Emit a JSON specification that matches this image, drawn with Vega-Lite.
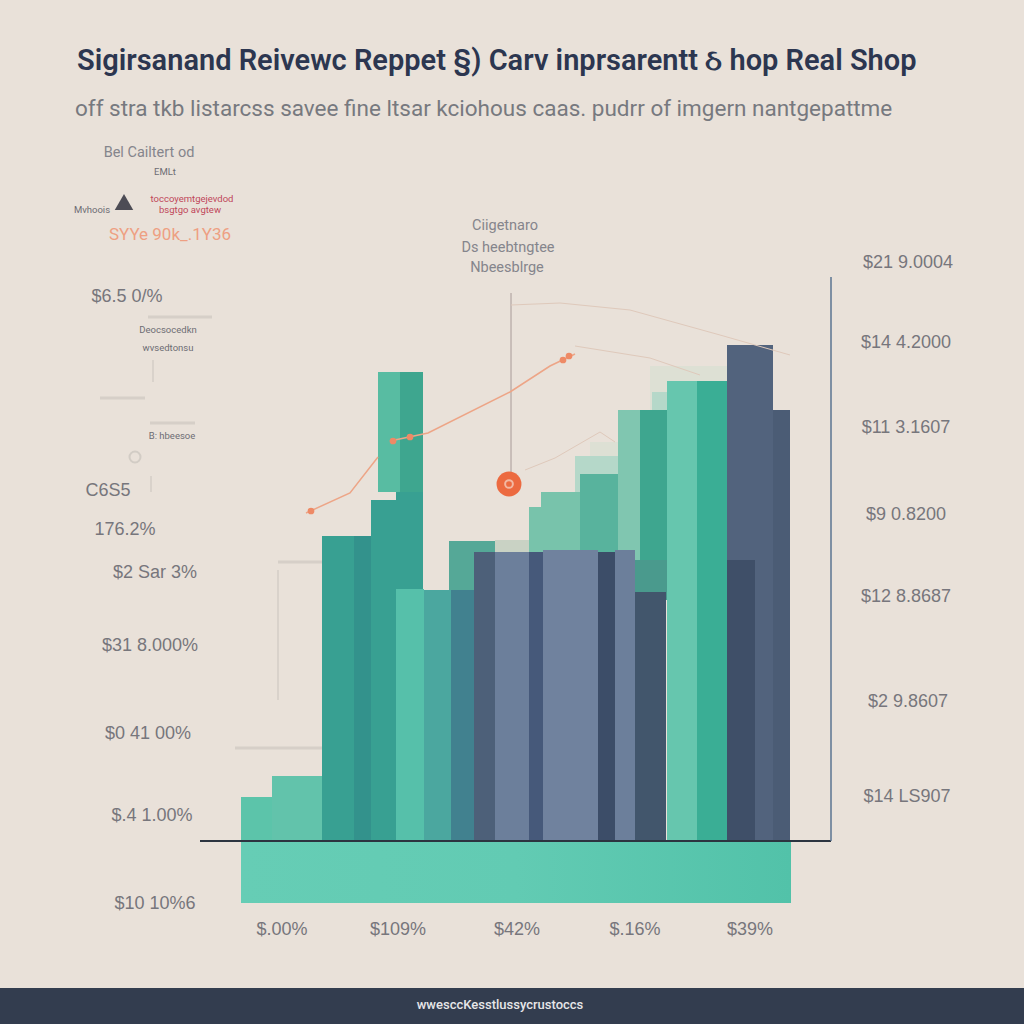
{"$schema":"https://vega.github.io/schema/vega-lite/v6.json","autosize":{"type":"fit","contains":"padding"},"width":1024,"height":1024,"padding":0,"background":"#e9e1d9","config":{"view":{"stroke":null},"axis":{"disable":true}},
"layer":[
{"data":{"values":[
{"a":590,"b":625,"t":442,"u":560,"g":"haze3"},{"a":650,"b":730,"t":366,"u":420,"g":"haze3"},{"a":575,"b":618,"t":456,"u":552,"g":"haze2"},{"a":652,"b":668,"t":392,"u":560,"g":"haze2"},
{"a":529,"b":541,"t":507,"u":552,"g":"mintfade"},{"a":541,"b":580,"t":492,"u":552,"g":"mintfade"},{"a":580,"b":618,"t":474,"u":552,"g":"mintmid"},
{"a":449,"b":495,"t":541,"u":600,"g":"tealfade"},{"a":495,"b":529,"t":540,"u":552,"g":"pale"},
{"a":618,"b":640,"t":410,"u":600,"g":"mintpale"},{"a":640,"b":667,"t":410,"u":600,"g":"green"},{"a":618,"b":667,"t":560,"u":600,"g":"tealdim"},
{"a":667,"b":697,"t":381,"u":841,"g":"mintpale2"},{"a":697,"b":727,"t":381,"u":841,"g":"green2"},
{"a":241,"b":272,"t":797,"u":841,"g":"mint"},{"a":272,"b":322,"t":776,"u":841,"g":"mint2"},
{"a":378,"b":400,"t":372,"u":492,"g":"mint3"},{"a":400,"b":423,"t":372,"u":492,"g":"green"},
{"a":322,"b":354,"t":536,"u":841,"g":"teal"},{"a":354,"b":371,"t":536,"u":841,"g":"tealdark"},{"a":371,"b":396,"t":500,"u":841,"g":"teal"},{"a":396,"b":423,"t":492,"u":590,"g":"teal"},
{"a":396,"b":424,"t":589,"u":841,"g":"mint4"},{"a":424,"b":451,"t":590,"u":841,"g":"teal2"},{"a":451,"b":474,"t":590,"u":841,"g":"blueteal"},
{"a":474,"b":495,"t":552,"u":841,"g":"slate"},{"a":495,"b":529,"t":552,"u":841,"g":"slatelight"},{"a":529,"b":543,"t":552,"u":841,"g":"slatedark"},{"a":543,"b":598,"t":550,"u":841,"g":"slatelight2"},{"a":598,"b":615,"t":552,"u":841,"g":"navy"},{"a":615,"b":635,"t":550,"u":841,"g":"slatelight"},{"a":635,"b":666,"t":592,"u":841,"g":"slatedeep"},
{"a":727,"b":773,"t":345,"u":841,"g":"ink"},{"a":773,"b":790,"t":410,"u":841,"g":"ink2"},{"a":727,"b":755,"t":560,"u":841,"g":"ink3"}
]},"mark":{"type":"rect"},"encoding":{"x":{"field":"a","type":"quantitative","scale":{"domain":[0,1024],"nice":false,"zero":false},"axis":null},"x2":{"field":"b"},"y":{"field":"t","type":"quantitative","scale":{"domain":[1024,0],"nice":false,"zero":false},"axis":null},"y2":{"field":"u"},"color":{"field":"g","type":"nominal","legend":null,"scale":{"domain":["haze3","haze2","mintfade","mintmid","tealfade","pale","mintpale","green","tealdim","mintpale2","green2","mint","mint2","mint3","teal","tealdark","mint4","teal2","blueteal","slate","slatelight","slatedark","slatelight2","navy","slatedeep","ink","ink2","ink3"],"range":["#dde0d4","#b5d8c9","#78c3ab","#58b39d","#55a897","#c9d2c4","#80c6b0","#3ea68f","#4a9a8d","#66c6ae","#3aae95","#5cc4aa","#62c3ab","#58bca2","#38a092","#33928c","#56c0aa","#4ba79f","#41818f","#4d6079","#6c7f9b","#46597a","#70829e","#3c4d68","#42566c","#52637d","#4b5c75","#3f4f68"]}}}},
{"data":{"values":[{"a":241,"b":791,"t":842,"u":903}]},"mark":{"type":"rect","color":{"x1":0,"y1":0,"x2":1,"y2":0,"gradient":"linear","stops":[{"offset":0,"color":"#66cdb5"},{"offset":0.5,"color":"#62cbb3"},{"offset":1,"color":"#52c2a9"}]}},"encoding":{"x":{"field":"a","type":"quantitative","scale":{"domain":[0,1024],"nice":false,"zero":false},"axis":null},"x2":{"field":"b"},"y":{"field":"t","type":"quantitative","scale":{"domain":[1024,0],"nice":false,"zero":false},"axis":null},"y2":{"field":"u"}}},
{"data":{"values":[{"a":0,"b":1024,"t":988,"u":1024}]},"mark":{"type":"rect","color":"#333d4f"},"encoding":{"x":{"field":"a","type":"quantitative","scale":{"domain":[0,1024],"nice":false,"zero":false},"axis":null},"x2":{"field":"b"},"y":{"field":"t","type":"quantitative","scale":{"domain":[1024,0],"nice":false,"zero":false},"axis":null},"y2":{"field":"u"}}},
{"data":{"values":[{"x":200,"x2":831,"y":841}]},"mark":{"type":"rule","color":"#2c3440","strokeWidth":2},"encoding":{"x":{"field":"x","type":"quantitative","scale":{"domain":[0,1024],"nice":false,"zero":false},"axis":null},"x2":{"field":"x2"},"y":{"field":"y","type":"quantitative","scale":{"domain":[1024,0],"nice":false,"zero":false},"axis":null}}},
{"data":{"values":[{"x":831,"y":277,"y2":841}]},"mark":{"type":"rule","color":"#5a7390","strokeWidth":1.5},"encoding":{"x":{"field":"x","type":"quantitative","scale":{"domain":[0,1024],"nice":false,"zero":false},"axis":null},"y":{"field":"y","type":"quantitative","scale":{"domain":[1024,0],"nice":false,"zero":false},"axis":null},"y2":{"field":"y2"}}},
{"data":{"values":[{"x":511,"y":293,"y2":478}]},"mark":{"type":"rule","color":"#a89a98","strokeWidth":1},"encoding":{"x":{"field":"x","type":"quantitative","scale":{"domain":[0,1024],"nice":false,"zero":false},"axis":null},"y":{"field":"y","type":"quantitative","scale":{"domain":[1024,0],"nice":false,"zero":false},"axis":null},"y2":{"field":"y2"}}},
{"data":{"values":[{"x":153,"y":360,"y2":382},{"x":151,"y":476,"y2":492},{"x":278,"y":570,"y2":700}]},"mark":{"type":"rule","color":"#d3cdc6","strokeWidth":1.5},"encoding":{"x":{"field":"x","type":"quantitative","scale":{"domain":[0,1024],"nice":false,"zero":false},"axis":null},"y":{"field":"y","type":"quantitative","scale":{"domain":[1024,0],"nice":false,"zero":false},"axis":null},"y2":{"field":"y2"}}},
{"data":{"values":[{"x":235,"x2":322,"y":748},{"x":148,"x2":212,"y":317},{"x":150,"x2":195,"y":423},{"x":278,"x2":322,"y":562},{"x":100,"x2":145,"y":398}]},"mark":{"type":"rule","color":"#d6cfc8","strokeWidth":3},"encoding":{"x":{"field":"x","type":"quantitative","scale":{"domain":[0,1024],"nice":false,"zero":false},"axis":null},"x2":{"field":"x2"},"y":{"field":"y","type":"quantitative","scale":{"domain":[1024,0],"nice":false,"zero":false},"axis":null}}},
{"data":{"values":[{"s":"a","x":511,"y":305},{"s":"a","x":560,"y":303},{"s":"a","x":630,"y":310},{"s":"a","x":720,"y":335},{"s":"a","x":790,"y":355},{"s":"b","x":525,"y":470},{"s":"b","x":555,"y":458},{"s":"b","x":600,"y":432},{"s":"b","x":615,"y":442},{"s":"c","x":575,"y":346},{"s":"c","x":650,"y":358},{"s":"c","x":700,"y":375}]},"mark":{"type":"line","color":"#dfc9bb","strokeWidth":1},"encoding":{"x":{"field":"x","type":"quantitative","scale":{"domain":[0,1024],"nice":false,"zero":false},"axis":null},"y":{"field":"y","type":"quantitative","scale":{"domain":[1024,0],"nice":false,"zero":false},"axis":null},"detail":{"field":"s"}}},
{"data":{"values":[{"s":"a","x":306,"y":513},{"s":"a","x":350,"y":493},{"s":"a","x":378,"y":457},{"s":"b","x":390,"y":441},{"s":"b","x":428,"y":433},{"s":"b","x":510,"y":392},{"s":"b","x":550,"y":366},{"s":"b","x":575,"y":354}]},"mark":{"type":"line","color":"#eda587","strokeWidth":1.5},"encoding":{"x":{"field":"x","type":"quantitative","scale":{"domain":[0,1024],"nice":false,"zero":false},"axis":null},"y":{"field":"y","type":"quantitative","scale":{"domain":[1024,0],"nice":false,"zero":false},"axis":null},"detail":{"field":"s"}}},
{"data":{"values":[{"x":311,"y":511},{"x":393,"y":441},{"x":410,"y":437},{"x":563,"y":360},{"x":569,"y":356}]},"mark":{"type":"point","filled":true,"color":"#ee8a66","size":45,"opacity":1},"encoding":{"x":{"field":"x","type":"quantitative","scale":{"domain":[0,1024],"nice":false,"zero":false},"axis":null},"y":{"field":"y","type":"quantitative","scale":{"domain":[1024,0],"nice":false,"zero":false},"axis":null}}},
{"data":{"values":[{"x":509,"y":484}]},"mark":{"type":"point","filled":true,"color":"#ec6a40","size":620,"opacity":1},"encoding":{"x":{"field":"x","type":"quantitative","scale":{"domain":[0,1024],"nice":false,"zero":false},"axis":null},"y":{"field":"y","type":"quantitative","scale":{"domain":[1024,0],"nice":false,"zero":false},"axis":null}}},
{"data":{"values":[{"x":509,"y":484}]},"mark":{"type":"point","filled":false,"color":"#f6d9cc","size":60,"strokeWidth":2},"encoding":{"x":{"field":"x","type":"quantitative","scale":{"domain":[0,1024],"nice":false,"zero":false},"axis":null},"y":{"field":"y","type":"quantitative","scale":{"domain":[1024,0],"nice":false,"zero":false},"axis":null}}},
{"data":{"values":[{"x":124,"y":202}]},"mark":{"type":"point","filled":true,"shape":"triangle-up","color":"#4d4c55","size":340,"opacity":1},"encoding":{"x":{"field":"x","type":"quantitative","scale":{"domain":[0,1024],"nice":false,"zero":false},"axis":null},"y":{"field":"y","type":"quantitative","scale":{"domain":[1024,0],"nice":false,"zero":false},"axis":null}}},
{"data":{"values":[{"x":135,"y":457}]},"mark":{"type":"point","filled":false,"color":"#c9c4bd","size":120},"encoding":{"x":{"field":"x","type":"quantitative","scale":{"domain":[0,1024],"nice":false,"zero":false},"axis":null},"y":{"field":"y","type":"quantitative","scale":{"domain":[1024,0],"nice":false,"zero":false},"axis":null}}},
{"data":{"values":[{"x":77,"y":61,"label":"Sigirsanand Reivewc Reppet §) Carv inprsarentt  ઠ hop Real Shop"}]},"mark":{"type":"text","align":"left","baseline":"middle","font":"Roboto","fontSize":29,"fontWeight":600,"color":"#2c3650"},"encoding":{"x":{"field":"x","type":"quantitative","scale":{"domain":[0,1024],"nice":false,"zero":false},"axis":null},"y":{"field":"y","type":"quantitative","scale":{"domain":[1024,0],"nice":false,"zero":false},"axis":null},"text":{"field":"label"}}},
{"data":{"values":[{"x":75,"y":109,"label":"off stra tkb listarcss savee fine ltsar kciohous caas. pudrr of imgern nantgepattme"}]},"mark":{"type":"text","align":"left","baseline":"middle","font":"Roboto","fontSize":22.5,"color":"#77797f"},"encoding":{"x":{"field":"x","type":"quantitative","scale":{"domain":[0,1024],"nice":false,"zero":false},"axis":null},"y":{"field":"y","type":"quantitative","scale":{"domain":[1024,0],"nice":false,"zero":false},"axis":null},"text":{"field":"label"}}},
{"data":{"values":[{"x":908,"y":263,"label":"$21 9.0004"},{"x":906,"y":343,"label":"$14 4.2000"},{"x":906,"y":428,"label":"$11 3.1607"},{"x":906,"y":515,"label":"$9 0.8200"},{"x":906,"y":597,"label":"$12 8.8687"},{"x":908,"y":702,"label":"$2 9.8607"},{"x":907,"y":797,"label":"$14 LS907"},{"x":150,"y":646,"label":"$31 8.000%"},{"x":148,"y":734,"label":"$0 41 00%"},{"x":152,"y":816,"label":"$.4 1.00%"},{"x":155,"y":904,"label":"$10 10%6"},{"x":282,"y":930,"label":"$.00%"},{"x":398,"y":930,"label":"$109%"},{"x":517,"y":930,"label":"$42%"},{"x":635,"y":930,"label":"$.16%"},{"x":750,"y":930,"label":"$39%"},{"x":155,"y":573,"label":"$2 Sar   3%"},{"x":125,"y":530,"label":"176.2%"},{"x":127,"y":297,"label":"$6.5 0/%"},{"x":108,"y":491,"label":"C6S5"}]},"mark":{"type":"text","align":"center","baseline":"middle","font":"Liberation Sans","fontSize":18,"color":"#77767c"},"encoding":{"x":{"field":"x","type":"quantitative","scale":{"domain":[0,1024],"nice":false,"zero":false},"axis":null},"y":{"field":"y","type":"quantitative","scale":{"domain":[1024,0],"nice":false,"zero":false},"axis":null},"text":{"field":"label"}}},
{"data":{"values":[{"x":149,"y":153,"label":"Bel Cailtert od"},{"x":505,"y":226,"label":"Ciigetnaro"},{"x":508,"y":248,"label":"Ds heebtngtee"},{"x":507,"y":268,"label":"Nbeesblrge"}]},"mark":{"type":"text","align":"center","baseline":"middle","font":"Roboto","fontSize":14.5,"color":"#85858c"},"encoding":{"x":{"field":"x","type":"quantitative","scale":{"domain":[0,1024],"nice":false,"zero":false},"axis":null},"y":{"field":"y","type":"quantitative","scale":{"domain":[1024,0],"nice":false,"zero":false},"axis":null},"text":{"field":"label"}}},
{"data":{"values":[{"x":168,"y":330,"label":"Deocsocedkn"},{"x":168,"y":348,"label":"wvsedtonsu"},{"x":172,"y":436,"label":"B: hbeesoe"},{"x":92,"y":210,"label":"Mvhoois"},{"x":165,"y":172,"label":"EMLt"}]},"mark":{"type":"text","align":"center","baseline":"middle","font":"Roboto","fontSize":9.5,"color":"#6d6d74"},"encoding":{"x":{"field":"x","type":"quantitative","scale":{"domain":[0,1024],"nice":false,"zero":false},"axis":null},"y":{"field":"y","type":"quantitative","scale":{"domain":[1024,0],"nice":false,"zero":false},"axis":null},"text":{"field":"label"}}},
{"data":{"values":[{"x":192,"y":199,"label":"toccoyemtgejevdod"},{"x":190,"y":210,"label":"bsgtgo avgtew"}]},"mark":{"type":"text","align":"center","baseline":"middle","font":"Roboto","fontSize":9.5,"color":"#c0475a"},"encoding":{"x":{"field":"x","type":"quantitative","scale":{"domain":[0,1024],"nice":false,"zero":false},"axis":null},"y":{"field":"y","type":"quantitative","scale":{"domain":[1024,0],"nice":false,"zero":false},"axis":null},"text":{"field":"label"}}},
{"data":{"values":[{"x":170,"y":235,"label":"SYYe 90k_.1Y36"}]},"mark":{"type":"text","align":"center","baseline":"middle","font":"Roboto","fontSize":17,"color":"#ee9f82"},"encoding":{"x":{"field":"x","type":"quantitative","scale":{"domain":[0,1024],"nice":false,"zero":false},"axis":null},"y":{"field":"y","type":"quantitative","scale":{"domain":[1024,0],"nice":false,"zero":false},"axis":null},"text":{"field":"label"}}},
{"data":{"values":[{"x":500,"y":1005,"label":"wwesccKesstlussycrustoccs"}]},"mark":{"type":"text","align":"center","baseline":"middle","font":"Roboto","fontSize":13,"fontWeight":500,"color":"#e6e6e8"},"encoding":{"x":{"field":"x","type":"quantitative","scale":{"domain":[0,1024],"nice":false,"zero":false},"axis":null},"y":{"field":"y","type":"quantitative","scale":{"domain":[1024,0],"nice":false,"zero":false},"axis":null},"text":{"field":"label"}}}
]}
